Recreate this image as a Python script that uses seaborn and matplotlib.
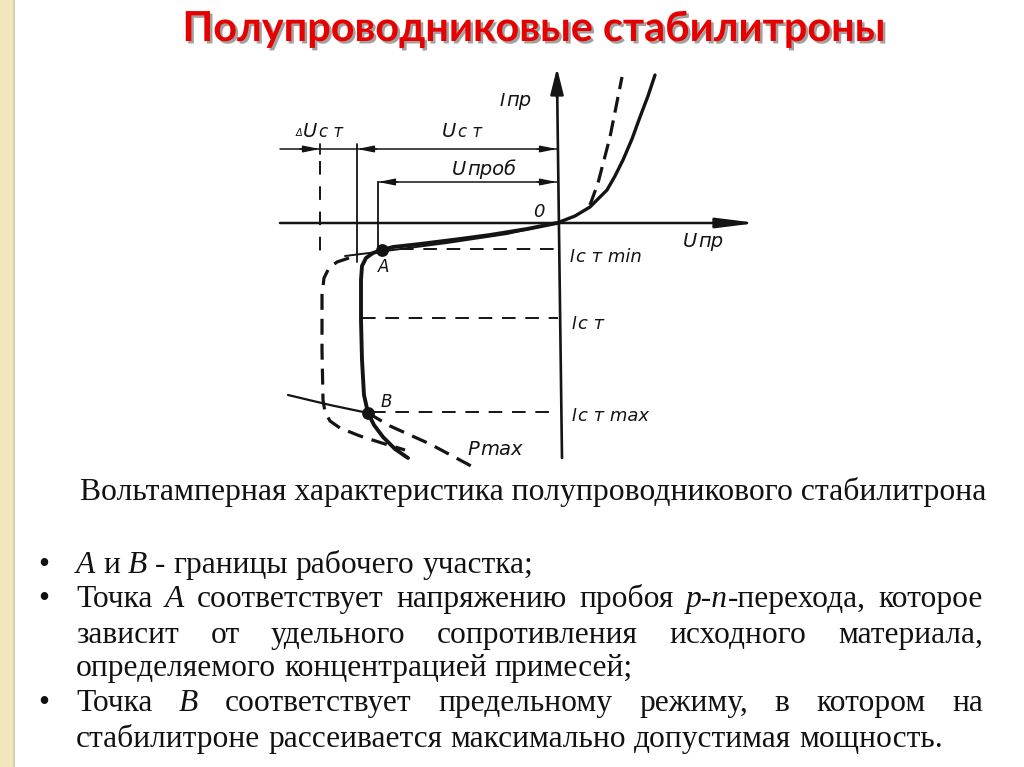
import seaborn as sns
import matplotlib.pyplot as plt
import matplotlib.transforms as mtransforms
import matplotlib.patheffects as pe
from matplotlib.patches import Rectangle

sns.set_theme(style='white')
plt.rcParams['font.family'] = ['DejaVu Sans']

W, H = 1024, 767
PX = 20.0  # pixels per diagram unit

# --- I-V curve of the zener diode (U, I in diagram units, reverse branch < 0)
main_U = [0, -1.5, -3.35, -4.85, -6.85, -8.2, -8.75, -9.2, -9.55, -9.75, -9.8, -9.8,
          -9.75, -9.65, -9.45, -9.15, -8.7, -8.1, -7.45]
main_I = [0, -0.3, -0.6, -0.8, -1.05, -1.2, -1.35, -1.5, -1.75, -2.15, -2.85, -4.85,
          -6.85, -8.6, -9.5, -10.1, -10.7, -11.3, -11.75]
tang_U = [0, -2.5, -5.5, -8.75, -10.6]
tang_I = [0, -0.55, -1.0, -1.42, -1.65]
hot_U = [-10.4, -11.0, -11.4, -11.65, -11.75, -11.75, -11.7, -11.6, -11.35, -10.85, -9.85, -8.6, -7.6]
hot_I = [-1.75, -1.95, -2.25, -2.75, -3.6, -6.35, -8.85, -9.45, -9.9, -10.25, -10.65, -11.05, -11.35]
fwd_U = [0, 0.9, 1.65, 2.5, 2.9, 3.3, 3.75, 4.15, 4.55, 4.9]
fwd_I = [0, 0.35, 0.8, 1.65, 2.35, 3.15, 4.2, 5.3, 6.35, 7.4]
fwd2_U = [1.65, 2.05, 2.65, 3.25]
fwd2_I = [0.9, 2.0, 4.3, 7.3]
pmax_U = [-13.45, -11.35, -9.45]
pmax_I = [-8.6, -9.1, -9.5]
pmax2_U = [-9.45, -8.35, -6.35, -4.2]
pmax2_I = [-9.5, -10.15, -11.05, -12.2]

# levels and dimension lines
U_ax = [-13.85, 10.0]
I_ax = [-11.75, 7.75]
U_ct, U_ct2, U_prob = -10.0, -11.85, -8.95
I_dim_ct, I_dim_prob = 3.7, 2.05
I_min, I_ct, I_max = -1.3, -4.75, -9.45
level_start = [-7.85, -9.75, -9.25]
pts_U = [-8.75, -9.45]
pts_I = [-1.35, -9.5]

title = 'Полупроводниковые стабилитроны'
caption = 'Вольтамперная характеристика полупроводникового стабилитрона'
body = ['*A* и *B* - границы рабочего участка;',
        'Точка *A* соответствует напряжению пробоя *p-n*-перехода, которое',
        'зависит от удельного сопротивления исходного материала,',
        'определяемого концентрацией примесей;',
        'Точка *B* соответствует предельному режиму, в котором на',
        'стабилитроне рассеивается максимально допустимая мощность.']
body_base = [573, 607, 643, 676, 711, 747]
justified = [False, True, True, False, True, False]
bullets = [True, True, False, False, True, False]

fig = plt.figure(figsize=(W / 100, H / 100), dpi=100)
fig.patch.set_facecolor('white')
pix = mtransforms.Affine2D().scale(1 / W, -1 / H).translate(0, 1) + fig.transFigure
renderer = fig.canvas.get_renderer()

# beige strip on the left edge of the slide
fig.patches.append(Rectangle((0, 0), 14, H, transform=pix, facecolor='#F2E6BE',
                             edgecolor='none', zorder=0))
fig.patches.append(Rectangle((13, 0), 2, H, transform=pix, facecolor='#DDD0A4',
                             edgecolor='none', zorder=0))

# diagram axes, origin at pixel (557, 223)
ax = fig.add_axes([260 / W, 1 - 475 / H, 520 / W, 420 / H])
ax.set_xlim((260 - 557) / PX, (780 - 557) / PX)
ax.set_ylim((223 - 475) / PX, (223 - 55) / PX)
ax.axis('off')

K = '#141414'


def line(U, I, lw, ls='-'):
    sns.lineplot(x=U, y=I, sort=False, estimator=None, color=K, lw=lw,
                 linestyle=ls, ax=ax)


def head(tip, tail, ms, hl, hw, lw=1.0):
    ax.annotate('', xy=tip, xytext=tail,
                arrowprops=dict(arrowstyle='-|>,head_length=%g,head_width=%g' % (hl, hw),
                                color=K, lw=lw, shrinkA=0, shrinkB=0, mutation_scale=ms))


# coordinate axes
head((U_ax[1], 0), (U_ax[0], 0), 20, 1.2, 0.15, lw=1.8)
line([0.25, 0], [I_ax[0], I_ax[1] - 0.5], 1.9)
head((0, I_ax[1]), (0, I_ax[1] - 1.5), 20, 0.8, 0.2, lw=1.8)

# dimension lines U_ct, U_prob
line([U_ax[0], 0], [I_dim_ct, I_dim_ct], 1.1)
head((0, I_dim_ct), (-1, I_dim_ct), 10, 1.0, 0.2)
head((U_ct, I_dim_ct), (U_ct + 1, I_dim_ct), 10, 1.0, 0.2)
head((U_ct2, I_dim_ct), (U_ct2 - 1, I_dim_ct), 10, 1.0, 0.2)
line([U_prob, 0], [I_dim_prob, I_dim_prob], 1.1)
head((0, I_dim_prob), (-1, I_dim_prob), 10, 1.0, 0.2)
head((U_prob, I_dim_prob), (U_prob + 1, I_dim_prob), 10, 1.0, 0.2)

# vertical extension lines
line([U_ct, U_ct], [3.95, -1.95], 1.3)
line([U_ct2, U_ct2], [3.95, 3.45], 1.3)
line([U_ct2, U_ct2], [3.1, -1.6], 1.4, (0, (7, 6)))
line([U_prob, U_prob], [I_dim_prob, pts_I[0]], 1.3)

# current levels
for u0, lev in zip(level_start, [I_min, I_ct, I_max]):
    line([u0, 0.05], [lev, lev], 1.4, (0, (7, 5)))

# characteristic curves
line(main_U, main_I, 2.8)
line(tang_U, tang_I, 1.4)
line(hot_U, hot_I, 2.3, (0, (5, 2.8)))
line(fwd_U, fwd_I, 2.4)
line(fwd2_U, fwd2_I, 2.3, (0, (5, 2.5)))
line(pmax_U, pmax_I, 1.6)
line(pmax2_U, pmax2_I, 2.3, (0, (5, 2.8)))
sns.scatterplot(x=pts_U, y=pts_I, s=85, color=K, linewidth=0, ax=ax, zorder=5)


# --- labels of the diagram (pixel positions, baseline)
def label(x, y, main, sub='', fs=14, fs_sub=12):
    t = fig.text(x, y, main, transform=pix, fontsize=fs, style='oblique',
                 family='DejaVu Sans', color=K, va='baseline')
    if sub:
        x1 = t.get_window_extent(renderer).x1 + 1.5
        fig.text(x1, y, sub, transform=pix, fontsize=fs_sub, style='oblique',
                 family='DejaVu Sans', color=K, va='baseline')


label(500, 106, 'I', 'пр', 13, 14)
label(296, 136, 'Δ', '', 7)
label(303, 137, 'U', 'с т')
label(442, 137, 'U', 'с т')
label(452, 175, 'U', 'проб', 14, 14)
label(533, 217, '0', '', 13)
label(683, 247, 'U', 'пр', 14, 14)
label(570, 262, 'I', 'с т min', 12, 13)
label(378, 272, 'A', '', 12)
label(572, 329, 'I', 'с т', 12, 13)
label(381, 407, 'B', '', 12)
label(572, 421, 'I', 'с т max', 12, 13)
label(467, 455, 'P', 'max', 14, 14)


# --- slide texts
def fit(t, target):
    w = t.get_window_extent(renderer).width
    t.set_fontsize(t.get_fontsize() * target / w)


tt = fig.text(533.5, 41, title, transform=pix, fontsize=30, weight='bold',
              family='Lato', color='#E60000', ha='center', va='baseline',
              path_effects=[pe.withSimplePatchShadow(offset=(1.8, -1.8),
                                                     shadow_rgbFace='#555555', alpha=0.55)])
fit(tt, 701)

cap = fig.text(80, 500, caption, transform=pix, fontsize=20,
               family='Liberation Serif', color='#111111', va='baseline')
fit(cap, 903)


def parse(s):
    words, ital = [], False
    for w in s.split(' '):
        segs = []
        for k, p in enumerate(w.split('*')):
            if k > 0:
                ital = not ital
            if p:
                segs.append((p, ital))
        words.append(segs)
    return words


def place(s, y, fs, x0=76, x1=983, just=False, draw=True):
    words = parse(s)
    arts, widths = [], []
    for segs in words:
        row, wsum = [], 0
        for p, it in segs:
            t = fig.text(0, y, p, transform=pix, fontsize=fs, family='Liberation Serif',
                         style='italic' if it else 'normal', color='#111111', va='baseline')
            w = t.get_window_extent(renderer).width
            row.append((t, w))
            wsum += w
        arts.append(row)
        widths.append(wsum)
    space = fs * 100 / 72 * 0.25
    if just:
        space = (x1 - x0 - sum(widths)) / (len(words) - 1)
    total = sum(widths) + space * (len(words) - 1)
    x = x0
    for row, wsum in zip(arts, widths):
        for t, w in row:
            if draw:
                t.set_x(x)
            else:
                t.remove()
            x += w
        x += space
    return total


fs = 20
fs = fs * 868 / place(body[5], 0, fs, draw=False)
for s, y, j, b in zip(body, body_base, justified, bullets):
    place(s, y, fs, just=j)
    if b:
        fig.text(38, y, '•', transform=pix, fontsize=fs, family='Liberation Serif',
                 color='#111111', va='baseline')

fig.savefig('out.png', dpi=100, facecolor='white')
